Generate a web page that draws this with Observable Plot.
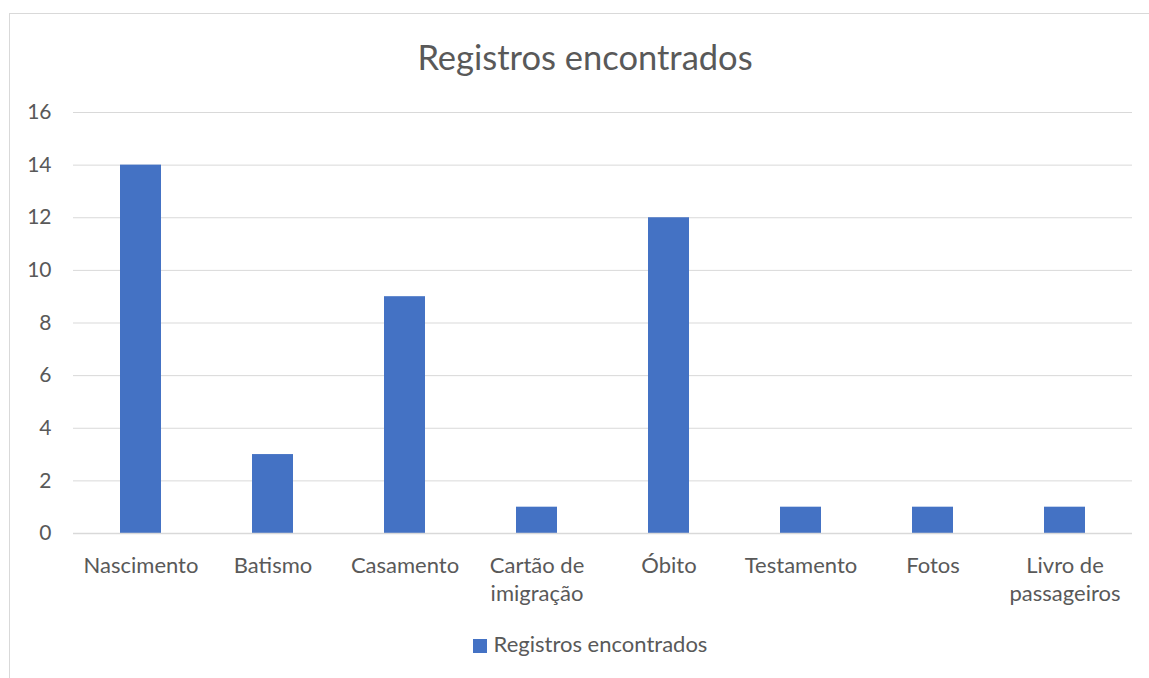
<!DOCTYPE html>
<html>
<head>
<meta charset="utf-8">
<script src="https://cdn.jsdelivr.net/npm/d3@7"></script>
<script src="https://cdn.jsdelivr.net/npm/@observablehq/plot@0.6"></script>
<style>
  html, body { margin: 0; padding: 0; background: #fff; }
  body { width: 1149px; height: 678px; position: relative; overflow: hidden; font-family: Lato, "Open Sans", sans-serif; color: #595959; }
  #frame { position: absolute; left: 9px; top: 13px; right: -5px; bottom: -5px; border-left: 1px solid #d9d9d9; border-top: 1px solid #d9d9d9; }
  #title { position: absolute; left: 0; top: 0; width: 1170px; height: 95px; text-align: center; line-height: 114px; font-size: 34.5px; color: #595959; }
  #chart { position: absolute; left: 0; top: 95px; }
  #legend { position: absolute; left: 0; top: 630px; width: 1180px; text-align: center; font-size: 22px; color: #595959; }
  #legend .sw { display: inline-block; width: 14px; height: 14px; background: #4472C4; margin-right: 7px; vertical-align: -1px; }
</style>
</head>
<body>
<div id="frame"></div>
<div id="title">Registros encontrados</div>
<div id="chart"></div>
<div id="legend"><span class="sw"></span>Registros encontrados</div>
<script>
const categories = ["Nascimento", "Batismo", "Casamento", "Cartão de\nimigração", "Óbito", "Testamento", "Fotos", "Livro de\npassageiros"];
const values = [14, 3, 9, 1, 12, 1, 1, 1];
const yTicks = [0, 2, 4, 6, 8, 10, 12, 14, 16];
const seriesName = "Registros encontrados";

const data = categories.map((c, i) => ({category: c, value: values[i]}));

const chart = Plot.plot({
  width: 1149,
  height: 525,
  marginTop: 17,
  marginBottom: 87,
  marginLeft: 73,
  marginRight: 17,
  style: {fontFamily: "Lato, 'Open Sans', sans-serif", fontSize: "22px", color: "#595959", background: "transparent"},
  x: {domain: categories, paddingInner: 0.687, paddingOuter: 0.3435, label: null},
  y: {domain: [0, 16], ticks: yTicks, label: null},
  marks: [
    Plot.gridY(yTicks, {stroke: "#d9d9d9", strokeOpacity: 1, strokeWidth: 1}),
    Plot.barY(data, {x: "category", y: "value", fill: "#4472C4"}),
    Plot.ruleY([0], {stroke: "#d9d9d9", strokeWidth: 1.5}),
    Plot.axisY(yTicks, {tickSize: 0, tickPadding: 22, fontSize: 21, fill: "#595959", label: null}),
    Plot.axisX({tickSize: 0, tickPadding: 20, fontSize: 22, fill: "#595959", lineHeight: 1.25, label: null})
  ]
});
document.getElementById("chart").appendChild(chart);
</script>
</body>
</html>
